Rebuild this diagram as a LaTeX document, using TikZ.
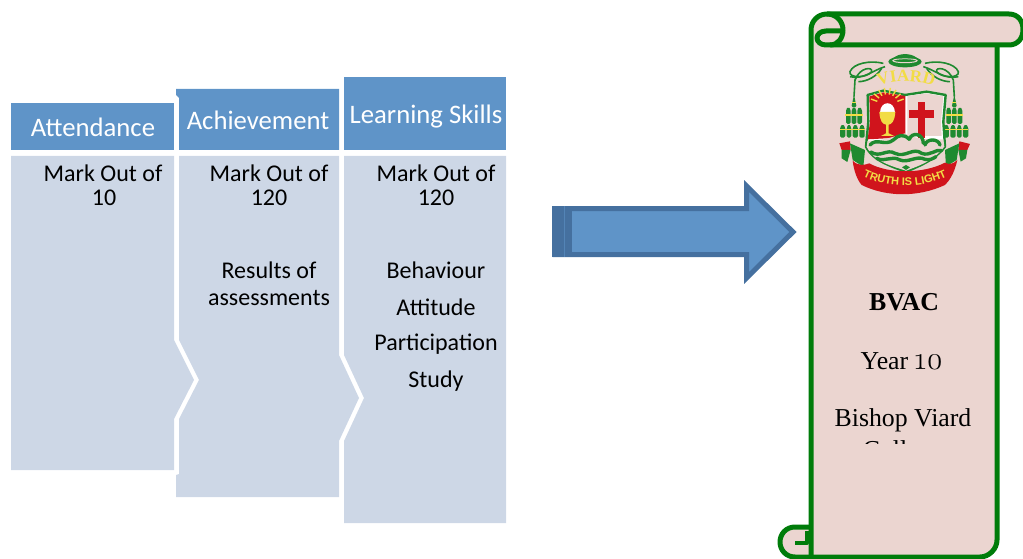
\documentclass[tikz,border=0pt]{standalone}
\usepackage{fontspec}
\setmainfont{Carlito}
\newfontfamily\serifface{Liberation Serif}
\newfontfamily\crestsans{Liberation Sans}
\newfontfamily\oldnum[Numbers=OldStyle,Scale=1.25]{Latin Modern Roman}
\usetikzlibrary{decorations.text}
\definecolor{headblue}{HTML}{5F94C8}
\definecolor{bodyblue}{HTML}{CDD7E6}
\definecolor{arrowedge}{HTML}{45709F}
\definecolor{scrollgreen}{HTML}{007C0A}
\definecolor{scrollpink}{HTML}{EBD5D0}
\definecolor{crestgreen}{HTML}{1F8A30}
\definecolor{crestred}{HTML}{D0141C}
\definecolor{crestyellow}{HTML}{F2DC45}
\tikzset{
  headtext/.style={text=white,anchor=base,inner sep=0pt,font=\fontsize{26.7}{31}\selectfont},
  bodytext/.style={text=black,anchor=base,inner sep=0pt,font=\fontsize{24}{28}\selectfont},
  scrolltext/.style={text=black,anchor=base,inner sep=0pt,font=\serifface\fontsize{25.8}{30}\selectfont},
  scrollline/.style={draw=scrollgreen,line width=5pt,line join=round},
  cord/.style={draw=crestgreen,line width=1.6pt},
  tassel/.style={fill=crestgreen,rounded corners=1.5pt},
  stripe/.style={fill=crestyellow},
  wave/.style={draw=crestgreen,line width=3.4pt,line cap=round}
}
\begin{document}
\begin{tikzpicture}[x=1pt,y=-1pt]
\useasboundingbox (0,0) rectangle (1023,559);
\clip (0,0) rectangle (1023,559);
% column headers
\fill[headblue] (11,103) rectangle (174,150);
\fill[headblue] (176,89) -- (339,89) -- (339,150) -- (179,150) -- (179,98) -- (176,95) -- cycle;
\fill[headblue] (344,77) rectangle (506,150);
% column bodies
\fill[bodyblue] (11,156) -- (174,156) -- (174,340) -- (194,380) -- (174,419) -- (174,470) -- (11,470) -- cycle;
\fill[bodyblue] (179,156) -- (339,156) -- (339,355) -- (359,398) -- (339,441) -- (339,497) -- (176,497) -- (176,475) -- (179,474) -- (179,419) -- (199,380) -- (179,340) -- cycle;
\fill[bodyblue] (344,156) -- (506,156) -- (506,523) -- (344,523) -- (344,441) -- (364,398) -- (344,355) -- cycle;
% texts
\node[headtext] (h1) at (93,137) {Attendance};
\node[headtext] (h2) at (258,130) {Achievement};
\node[headtext] (h3) at (426,124) {Learning Skills};
\node[bodytext] (a1) at (103,182) {Mark Out of};
\node[bodytext] (a2) at (104,205) {10};
\node[bodytext] (b1) at (269,182) {Mark Out of};
\node[bodytext] (b2) at (269,205) {120};
\node[bodytext] (b3) at (269,278) {Results of};
\node[bodytext] (b4) at (269,305) {assessments};
\node[bodytext] (c1) at (436,182) {Mark Out of};
\node[bodytext] (c2) at (436,205) {120};
\node[bodytext] (c3) at (436,278) {Behaviour};
\node[bodytext] (c4) at (436,315) {Attitude};
\node[bodytext] (c5) at (436,350) {Participation};
\node[bodytext] (c6) at (436,387) {Study};
% arrow
\draw[fill=headblue,draw=arrowedge,line width=5pt,line join=miter]
  (555,208.5) -- (746.5,208.5) -- (746.5,186) -- (793,232) -- (746.5,278) -- (746.5,254.5) -- (555,254.5) -- cycle;
\fill[arrowedge] (552,206) rectangle (572,257);
\fill[headblue!55!arrowedge] (563.5,206) rectangle (564.5,257);
% scroll body
\fill[scrollpink] (811,30) .. controls (811,21) and (818,14) .. (827,14) -- (1009,14) .. controls (1018,14) and (1024,21) .. (1024,29.5) .. controls (1024,38) and (1018,45) .. (1009,45) -- (997,45) -- (997,540) .. controls (997,549) and (989,557) .. (980,557) -- (795,557) .. controls (786,557) and (779,550) .. (779,542) .. controls (779,534) and (786,527) .. (795,527) -- (811,527) -- cycle;
% top roll
\draw[scrollline] (811,557) -- (811,30) .. controls (811,21) and (818,14) .. (827,14) -- (1009,14) .. controls (1018,14) and (1023,21) .. (1023,29.5) .. controls (1023,38) and (1018,45) .. (1009,45) -- (826,45) .. controls (821,45) and (817,42) .. (817,38) .. controls (817,34) and (821,31) .. (826,31) -- (843,31);
\draw[scrollline] (827,14) .. controls (836,14) and (843,21) .. (843,30) .. controls (843,38) and (838,45) .. (830,45);
% right side and bottom roll
\draw[scrollline] (997,45) -- (997,540) .. controls (997,549) and (989,557) .. (980,557) -- (795,557) .. controls (786,557) and (780,550) .. (780,542) .. controls (780,534) and (786,527) .. (795,527) -- (811,527);
\draw[scrollline,line width=4pt] (795,543) -- (807,543) -- (807,531);
% scroll text
\node[scrolltext,font=\serifface\bfseries\fontsize{25.8}{30}\selectfont] (t1) at (904,310) {BVAC};
\node[scrolltext] (t2) at (902,369) {Year {\oldnum 10}};
\node[scrolltext] (t3) at (903,426) {Bishop Viard};
\begin{scope}
\clip (820,400) rectangle (990,443);
\node[scrolltext] (t4) at (903,458) {College};
\end{scope}
% crest (coordinates in thirds of a pixel)
\begin{scope}[shift={(830,50)},x=0.3333pt,y=-0.3333pt]
 \foreach \s/\c in {1/0,-1/445}{
  \begin{scope}[xshift=\c*0.3333pt,xscale=\s]
   \draw[cord] (160,40) .. controls (120,30) and (70,40) .. (60,65) .. controls (55,85) and (110,85) .. (125,65) .. controls (130,50) and (90,50) .. (75,90) -- (72,140);
   \draw[cord] (165,50) .. controls (130,60) and (100,90) .. (60,80);
   \draw[cord] (155,55) .. controls (140,80) and (110,95) .. (85,95);
   \fill[tassel] (72,134) -- (80,172) -- (64,172) -- cycle;
   \fill[tassel] (48,178) -- (55,170) -- (62,178) -- (62,222) -- (48,222) -- cycle;
   \fill[tassel] (65,178) -- (72,170) -- (79,178) -- (79,222) -- (65,222) -- cycle;
   \fill[tassel] (82,178) -- (89,170) -- (96,178) -- (96,222) -- (82,222) -- cycle;
   \fill[tassel] (30,232) -- (38,222) -- (46,232) -- (46,263) -- (30,263) -- cycle;
   \fill[tassel] (50,232) -- (57,222) -- (64,232) -- (64,263) -- (50,263) -- cycle;
   \fill[tassel] (68,232) -- (76,222) -- (84,232) -- (84,263) -- (68,263) -- cycle;
   \fill[tassel] (88,232) -- (96,222) -- (104,232) -- (104,263) -- (88,263) -- cycle;
   \fill[stripe] (66,155) rectangle (78,160);
   \fill[stripe] (46,192) rectangle (98,197);
   \fill[stripe] (30,236) rectangle (104,241);
  \end{scope}}
 % mitre
 \fill[crestgreen] (225,35) ellipse[x radius=50,y radius=17];
 \draw[scrollpink,line width=1pt] (225,32) ellipse[x radius=36,y radius=6];
 \fill[crestgreen] (190,25) .. controls (205,8) and (245,8) .. (262,25) -- cycle;
 % ribbon ends
 \fill[crestred] (28,280) -- (60,274) -- (62,300) -- (35,300) -- cycle;
 \fill[crestgreen] (35,300) -- (62,300) -- (52,336) -- (35,325) -- cycle;
 \fill[crestred] (420,282) -- (388,274) -- (385,300) -- (412,300) -- cycle;
 \fill[crestgreen] (412,300) -- (385,300) -- (392,335) -- (408,325) -- cycle;
 \fill[crestgreen] (60,280) -- (105,300) -- (100,350) -- (68,330) -- cycle;
 \fill[crestgreen] (388,280) -- (345,300) -- (348,350) -- (380,330) -- cycle;
 % shield
 \path[fill=white,draw=crestgreen,line width=2.4pt,line join=round]
  (113,135) -- (160,122) -- (225,135) -- (290,125) -- (347,135) -- (340,215) -- (345,290) .. controls (310,335) and (260,350) .. (228,366) .. controls (190,350) and (130,335) .. (108,290) -- (115,215) -- cycle;
 \fill[scrollpink] (232,138) -- (290,130) -- (340,139) -- (333,215) -- (335,258) -- (232,258) -- cycle;
 \fill[crestred] (118,139) -- (160,127) -- (226,138) -- (226,262) -- (113,268) -- (120,215) -- cycle;
 \foreach \a in {20,40,...,160}{
  \draw[crestyellow,line width=1.4pt] (172,165) ++({-\a}:32) -- ++({-\a}:20);
 }
 \fill[white] (150,188) .. controls (150,150) and (194,150) .. (194,188) -- cycle;
 \fill[crestyellow] (148,186) -- (196,186) .. controls (194,215) and (185,222) .. (176,224) -- (176,250) -- (192,258) -- (153,258) -- (168,250) -- (168,224) .. controls (158,222) and (150,215) .. (148,186) -- cycle;
 \fill[crestred] (263,155) rectangle (286,265);
 \fill[crestred] (238,180) rectangle (311,205);
 % waves
 \fill[scrollpink] (113,272) .. controls (150,275) and (190,260) .. (225,250) .. controls (260,270) and (310,270) .. (340,268) -- (343,290) .. controls (310,335) and (260,350) .. (228,362) .. controls (190,350) and (130,335) .. (110,290) -- cycle;
 \draw[wave] (120,285) .. controls (140,262) and (165,290) .. (190,270) .. controls (205,255) and (220,250) .. (238,268);
 \draw[wave] (238,268) .. controls (245,245) and (280,250) .. (280,280);
 \draw[wave] (285,285) .. controls (290,265) and (325,265) .. (330,285);
 \draw[wave] (122,306) .. controls (150,325) and (170,295) .. (195,310) .. controls (225,325) and (250,290) .. (275,310) .. controls (300,320) and (320,295) .. (335,302);
 \draw[wave] (140,325) .. controls (165,338) and (185,315) .. (210,330) .. controls (235,340) and (260,315) .. (285,328) .. controls (300,332) and (310,325) .. (318,320);
 \fill[crestgreen] (228,345) -- (240,352) -- (228,360) -- (216,352) -- cycle;
 % main ribbon
 \fill[crestred] (68,332) .. controls (85,350) and (105,345) .. (118,340) .. controls (175,372) and (280,372) .. (345,338) .. controls (358,345) and (370,342) .. (382,330) .. controls (372,375) and (355,395) .. (345,405) .. controls (265,442) and (170,442) .. (95,405) .. controls (82,390) and (72,365) .. (68,332) -- cycle;
 \path[decorate,decoration={text along path,text align=center,text color=crestyellow,text={|\crestsans\bfseries\fontsize{11}{13}\selectfont|TRUTH IS LIGHT}}]
  (80,370) .. controls (165,420) and (285,420) .. (370,370);
 \path[decorate,decoration={text along path,text align=center,text color=crestyellow,text={|\serifface\bfseries\fontsize{17}{20}\selectfont|VIARD}}]
  (125,120) .. controls (170,85) and (285,85) .. (332,120);
\end{scope}
\end{tikzpicture}
\end{document}
